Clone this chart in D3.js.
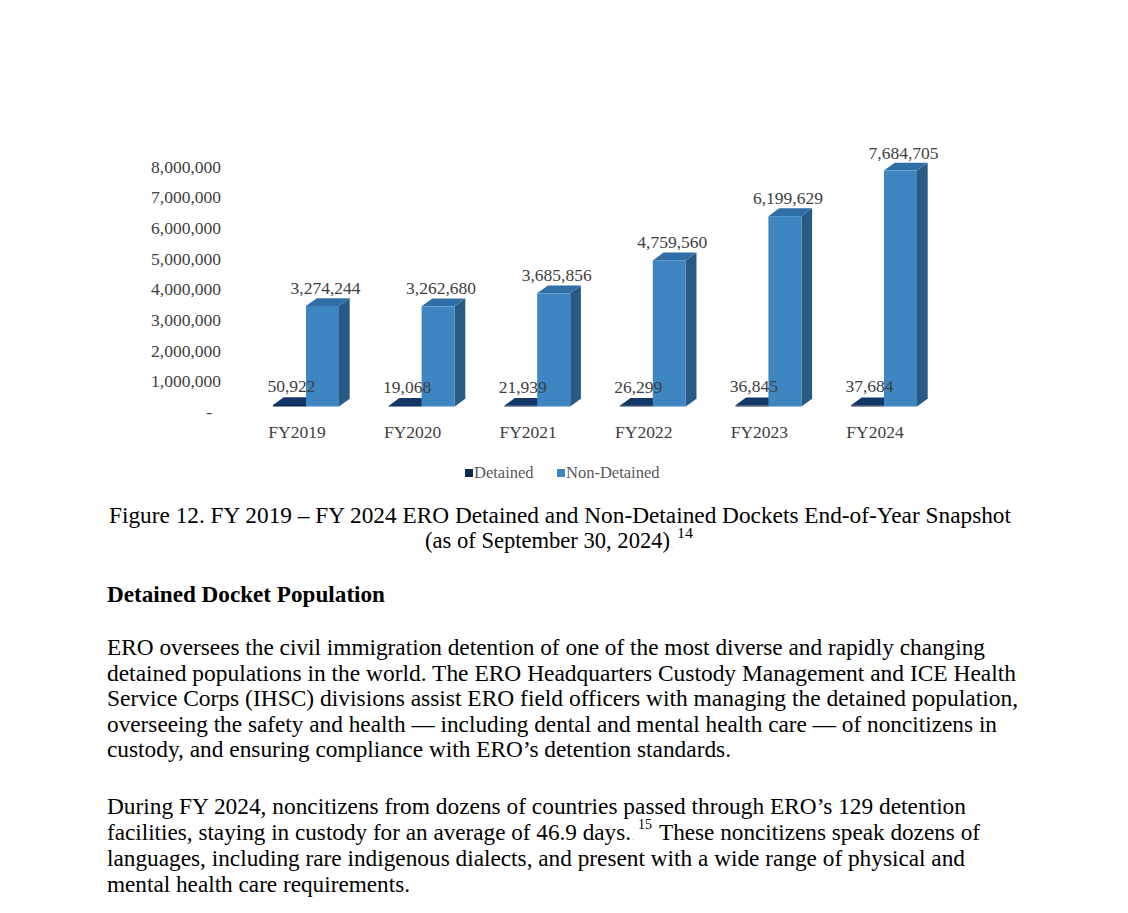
<!DOCTYPE html>
<html>
<head>
<meta charset="utf-8">
<script src="https://cdn.jsdelivr.net/npm/d3@7"></script>
<style>
  html, body { margin: 0; padding: 0; background: #fff; }
  svg { display: block; }
  text { font-family: "Liberation Serif", "Times New Roman", serif; }
</style>
</head>
<body>
<svg id="chart" width="1128" height="913"></svg>
<script>
// ---------------- data ----------------
const categories = ["FY2019", "FY2020", "FY2021", "FY2022", "FY2023", "FY2024"];
const seriesNames = ["Detained", "Non-Detained"];
const detained = [50922, 19068, 21939, 26299, 36845, 37684];
const nonDetained = [3274244, 3262680, 3685856, 4759560, 6199629, 7684705];
const yTicks = [0, 1000000, 2000000, 3000000, 4000000, 5000000, 6000000, 7000000, 8000000];

const captionLine1 = "Figure 12. FY 2019 \u2013 FY 2024 ERO Detained and Non-Detained Dockets End-of-Year Snapshot";
const captionLine2 = "(as of September 30, 2024)";
const captionNote = "14";
const heading = "Detained Docket Population";
const para1 = [
  "ERO oversees the civil immigration detention of one of the most diverse and rapidly changing",
  "detained populations in the world. The ERO Headquarters Custody Management and ICE Health",
  "Service Corps (IHSC) divisions assist ERO field officers with managing the detained population,",
  "overseeing the safety and health \u2014 including dental and mental health care \u2014 of noncitizens in",
  "custody, and ensuring compliance with ERO\u2019s detention standards."
];
const para2 = [
  "During FY 2024, noncitizens from dozens of countries passed through ERO\u2019s 129 detention",
  ["facilities, staying in custody for an average of 46.9 days.", "15", "These noncitizens speak dozens of"],
  "languages, including rare indigenous dialects, and present with a wide range of physical and",
  "mental health care requirements."
];

// ---------------- layout ----------------
const svg = d3.select("#chart");
const colors = {
  detFront: "#0c2a4f", detTop: "#133766", detSide: "#0a2344",
  ndFront: "#3d86c1", ndTop: "#2f6ea6", ndSide: "#285a84"
};
const depthX = 10.7, depthY = -7.8;

const x = d3.scaleBand().domain(categories).range([248, 248 + 6 * 115.6]);
const xSub = d3.scaleBand().domain(seriesNames).range([25, 91]);
const y = d3.scaleLinear().domain([0, 8000000]).range([406.5, 406.5 - 8 * 30.7]);
const yLabel = d3.scaleLinear().domain([0, 8000000]).range([412, 412 - 8 * 30.7]);

// y axis (labels only)
const yAxis = d3.axisLeft(yLabel)
  .tickValues(yTicks)
  .tickSize(0)
  .tickPadding(0)
  .tickFormat(d => d === 0 ? "-" : d3.format(",")(d));
const gy = svg.append("g").attr("transform", "translate(221,0)").call(yAxis);
gy.select(".domain").remove();
gy.selectAll("text")
  .attr("font-family", "Liberation Serif, Times New Roman, serif")
  .attr("font-size", "17.5px")
  .attr("fill", "#404040")
  .attr("dx", d => d === 0 ? -9 : 0);

// bars
function bar3d(g, x0, w, v, front, top, side) {
  const yb = y(0), yt = y(v);
  g.append("path").attr("fill", side)
    .attr("d", `M${x0 + w},${yt} L${x0 + w + depthX},${yt + depthY} L${x0 + w + depthX},${yb + depthY} L${x0 + w},${yb} Z`);
  g.append("path").attr("fill", top)
    .attr("d", `M${x0},${yt} L${x0 + depthX},${yt + depthY} L${x0 + w + depthX},${yt + depthY} L${x0 + w},${yt} Z`);
  g.append("rect").attr("fill", front)
    .attr("x", x0).attr("y", yt).attr("width", w).attr("height", Math.max(0.5, yb - yt));
}

const gBars = svg.append("g");
categories.forEach((c, i) => {
  const g = gBars.append("g");
  const w = xSub.bandwidth();
  bar3d(g, x(c) + xSub("Detained"), w, detained[i], colors.detFront, colors.detTop, colors.detSide);
  bar3d(g, x(c) + xSub("Non-Detained"), w, nonDetained[i], colors.ndFront, colors.ndTop, colors.ndSide);
});

// value labels
const fmt = d3.format(",");
const gLab = svg.append("g")
  .attr("font-size", "17.5px").attr("fill", "#404040").attr("text-anchor", "middle");
categories.forEach((c, i) => {
  const w = xSub.bandwidth();
  gLab.append("text")
    .attr("x", x(c) + xSub("Detained") + w / 2 + 2)
    .attr("y", y(detained[i]) - 13)
    .text(fmt(detained[i]));
  gLab.append("text")
    .attr("x", x(c) + xSub("Non-Detained") + w / 2 + 3)
    .attr("y", y(nonDetained[i]) - 12)
    .text(fmt(nonDetained[i]));
});

// category labels
svg.append("g").attr("font-size", "17.5px").attr("fill", "#404040").attr("text-anchor", "middle")
  .selectAll("text").data(categories).join("text")
  .attr("x", d => x(d) + xSub("Detained") + 24)
  .attr("y", 438)
  .text(d => d);

// legend
const legend = svg.append("g").attr("font-size", "16.5px").attr("fill", "#595959");
const legendItems = [
  { name: seriesNames[0], color: colors.detFront, sx: 465, tx: 474 },
  { name: seriesNames[1], color: colors.ndFront, sx: 557, tx: 566 }
];
legendItems.forEach(it => {
  legend.append("rect").attr("x", it.sx).attr("y", 469).attr("width", 8).attr("height", 8).attr("fill", it.color);
  legend.append("text").attr("x", it.tx).attr("y", 478).text(it.name);
});

// caption
svg.append("text").attr("x", 109).attr("y", 522.7).attr("font-size", "23px").attr("fill", "#000")
  .attr("textLength", 902).attr("lengthAdjust", "spacingAndGlyphs").text(captionLine1);
svg.append("text").attr("x", 425).attr("y", 548.3).attr("font-size", "23px").attr("fill", "#000")
  .attr("textLength", 245).attr("lengthAdjust", "spacingAndGlyphs").text(captionLine2);
svg.append("text").attr("x", 671).attr("y", 548).attr("font-size", "8px").attr("fill", "#999").text(".");
svg.append("text").attr("x", 677).attr("y", 537.5).attr("font-size", "14px").attr("fill", "#000")
  .attr("textLength", 16).attr("lengthAdjust", "spacingAndGlyphs").text(captionNote);

// heading
svg.append("text").attr("x", 107).attr("y", 601.5).attr("font-size", "22.5px").attr("font-weight", "bold")
  .attr("fill", "#000").attr("textLength", 278).attr("lengthAdjust", "spacingAndGlyphs").text(heading);

// paragraphs
const p1Ends = [985, 1016, 1018, 997, 731];
const p1Base = [655, 680.5, 706, 731.5, 757];
para1.forEach((line, i) => {
  svg.append("text").attr("x", 107).attr("y", p1Base[i]).attr("font-size", "22.5px").attr("fill", "#000")
    .attr("textLength", p1Ends[i] - 107).attr("lengthAdjust", "spacingAndGlyphs").text(line);
});
const p2Ends = [966, 980, 965, 410];
const p2Base = [813.5, 839.5, 865.5, 891.5];
para2.forEach((line, i) => {
  if (Array.isArray(line)) {
    svg.append("text").attr("x", 107).attr("y", p2Base[i]).attr("font-size", "22.5px").attr("fill", "#000")
      .attr("textLength", 631 - 107).attr("lengthAdjust", "spacingAndGlyphs").text(line[0]);
    svg.append("text").attr("x", 632).attr("y", p2Base[i]).attr("font-size", "8px").attr("fill", "#999").text(".");
    svg.append("text").attr("x", 638).attr("y", p2Base[i] - 11).attr("font-size", "14px").attr("fill", "#000")
      .attr("textLength", 14).attr("lengthAdjust", "spacingAndGlyphs").text(line[1]);
    svg.append("text").attr("x", 659).attr("y", p2Base[i]).attr("font-size", "22.5px").attr("fill", "#000")
      .attr("textLength", p2Ends[i] - 659).attr("lengthAdjust", "spacingAndGlyphs").text(line[2]);
  } else {
    svg.append("text").attr("x", 107).attr("y", p2Base[i]).attr("font-size", "22.5px").attr("fill", "#000")
      .attr("textLength", p2Ends[i] - 107).attr("lengthAdjust", "spacingAndGlyphs").text(line);
  }
});
</script>
</body>
</html>
